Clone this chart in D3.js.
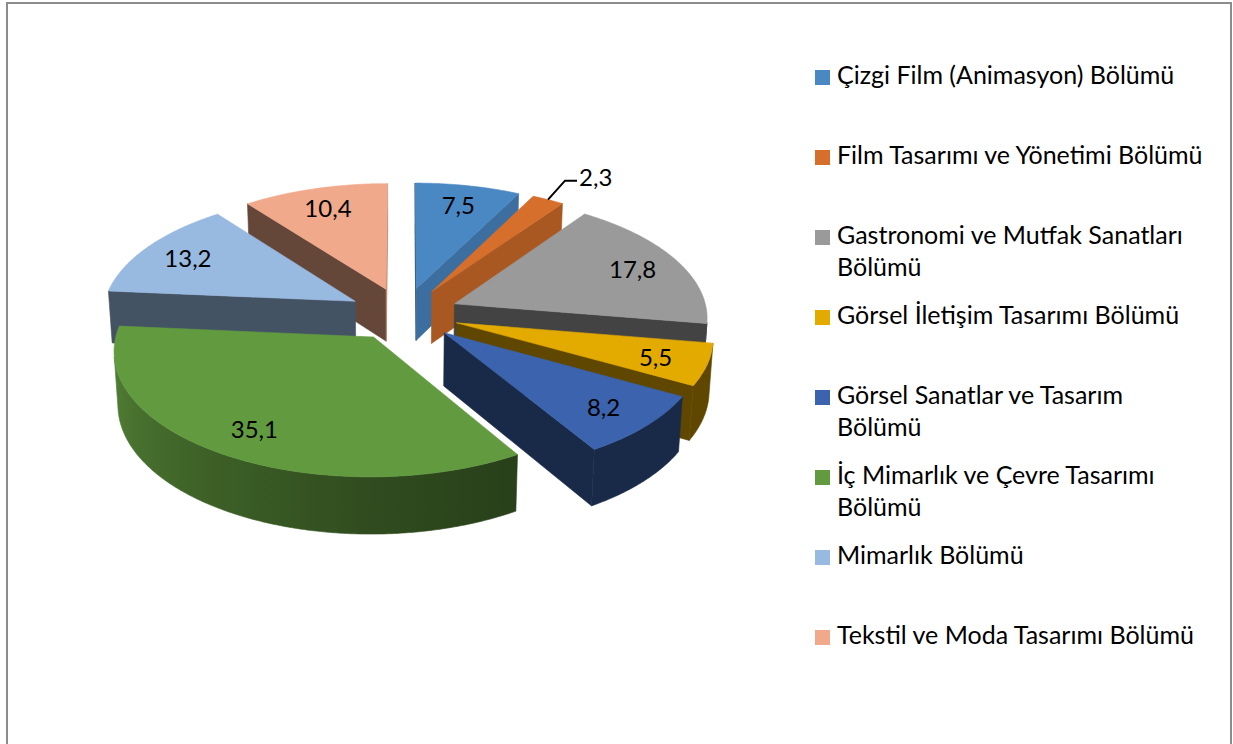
<!DOCTYPE html>
<html>
<head>
<meta charset="utf-8">
<script src="https://cdn.jsdelivr.net/npm/d3@7"></script>
<style>
  body { margin: 0; background: #ffffff; }
  svg { display: block; }
  text { font-family: Lato, "Open Sans", sans-serif; fill: #000; }
</style>
</head>
<body>
<svg id="chart" width="1233" height="744"></svg>
<script>
// ---- data ----
const categories = [
  "Çizgi Film (Animasyon) Bölümü",
  "Film Tasarımı ve Yönetimi Bölümü",
  "Gastronomi ve Mutfak Sanatları Bölümü",
  "Görsel İletişim Tasarımı Bölümü",
  "Görsel Sanatlar ve Tasarım Bölümü",
  "İç Mimarlık ve Çevre Tasarımı Bölümü",
  "Mimarlık Bölümü",
  "Tekstil ve Moda Tasarımı Bölümü"
];
const values = [7.5, 2.3, 17.8, 5.5, 8.2, 35.1, 13.2, 10.4];
const colors = ["#4a88c4", "#d56f2b", "#9a9a9a", "#e3aa00", "#3b63ae", "#629b3f", "#98b9e0", "#f0a98b"];

// ---- layout / projection settings ----
const cam = { cx: 403.5, cy: 314, s: 253, ca: 0.878, sa: 0.478, D: 8.78, thick: 0.24, explode: 0.22 };
const labelR = 0.8;
const labelFont = 24;
const legendFont = 25;

const svg = d3.select("#chart");
const defs = svg.append("defs");

// border
svg.append("rect")
  .attr("x", 7).attr("y", 3).attr("width", 1224).attr("height", 760)
  .attr("fill", "#fff").attr("stroke", "#8c8c8c").attr("stroke-width", 2);

function proj(X, Y, Z) {
  const dr = 1 + (Z * cam.ca - Y * cam.sa) / cam.D;
  return [cam.cx + cam.s * X / dr, cam.cy - cam.s * (Y * cam.ca + Z * cam.sa) / dr];
}
const camPos = [0, cam.D * cam.sa, -cam.D * cam.ca];
function facing(n, p) {
  return n[0] * (camPos[0] - p[0]) + n[1] * (camPos[1] - p[1]) + n[2] * (camPos[2] - p[2]) > 0;
}
function shade(hex, k) {
  const c = d3.rgb(hex);
  return d3.rgb(c.r * k, c.g * k, c.b * k).formatHex();
}
const line = d3.line();
const deg = Math.PI / 180;

const pie = d3.pie().sort(null).value(d => d).startAngle(0).endAngle(2 * Math.PI);
const arcs = pie(values).map((a, i) => {
  const mid = (a.startAngle + a.endAngle) / 2;
  return {
    i, value: values[i], a0: a.startAngle, a1: a.endAngle, mid,
    ox: cam.explode * Math.sin(mid), oz: cam.explode * Math.cos(mid)
  };
});
// painter's order: far first
arcs.forEach(s => { s.depth = s.oz + 0.5 * Math.cos(s.mid); });
const order = arcs.slice().sort((a, b) => b.depth - a.depth);

const gPie = svg.append("g");
const Y0 = 0, Y1 = -cam.thick;

function wallK(t) {
  const d = t / deg;
  const u = Math.max(0, Math.min(1, (d - 150) / 120));
  return 0.42 + 0.45 * Math.pow(u, 1.3);
}
function radialK(nAng) {
  const c = Math.max(0, Math.cos(nAng - 110 * deg));
  return 0.42 + 0.4 * c * c;
}

order.forEach(s => {
  const g = gPie.append("g");
  const col = colors[s.i];
  const rimPt = (t, Y) => proj(s.ox + Math.sin(t), Y, s.oz + Math.cos(t));
  const apex = Y => proj(s.ox, Y, s.oz);

  // radial faces
  [[s.a0, s.a0 - Math.PI / 2], [s.a1, s.a1 + Math.PI / 2]].forEach(([phi, nAng]) => {
    const n = [Math.sin(nAng), 0, Math.cos(nAng)];
    const p = [s.ox + 0.5 * Math.sin(phi), -cam.thick / 2, s.oz + 0.5 * Math.cos(phi)];
    if (facing(n, p)) {
      const c = shade(col, radialK(nAng));
      g.append("path")
        .attr("d", line([apex(Y0), rimPt(phi, Y0), rimPt(phi, Y1), apex(Y1)]) + "Z")
        .attr("fill", c).attr("stroke", c).attr("stroke-width", 0.6).attr("stroke-linejoin", "round");
    }
  });

  // outer wall: find the visible range, draw as one path with a gradient
  const steps = Math.max(4, Math.ceil((s.a1 - s.a0) / (0.5 * deg)));
  const vis = [];
  for (let k = 0; k <= steps; k++) {
    const t = s.a0 + (s.a1 - s.a0) * k / steps;
    const n = [Math.sin(t), 0, Math.cos(t)];
    const p = [s.ox + Math.sin(t), -cam.thick / 2, s.oz + Math.cos(t)];
    if (facing(n, p)) vis.push(t);
  }
  if (vis.length >= 2) {
    const top = vis.map(t => rimPt(t, Y0));
    const bot = vis.map(t => rimPt(t, Y1)).reverse();
    const xs = top.map(p => p[0]);
    const xMin = d3.min(xs), xMax = d3.max(xs);
    const gid = "wall" + s.i;
    const grad = defs.append("linearGradient").attr("id", gid)
      .attr("gradientUnits", "userSpaceOnUse")
      .attr("x1", xMin).attr("y1", 0).attr("x2", xMax).attr("y2", 0);
    const span = Math.max(1e-6, xMax - xMin);
    const stops = vis.filter((t, k) => k % 6 === 0 || k === vis.length - 1)
      .map(t => ({ off: (rimPt(t, Y0)[0] - xMin) / span, c: shade(col, wallK(t)) }))
      .sort((a, b) => a.off - b.off);
    stops.forEach(st => grad.append("stop").attr("offset", st.off).attr("stop-color", st.c));
    g.append("path")
      .attr("d", line(top.concat(bot)) + "Z")
      .attr("fill", `url(#${gid})`).attr("stroke", `url(#${gid})`).attr("stroke-width", 0.6);
  }

  // top face
  const pts = [apex(Y0)];
  const n2 = Math.max(4, Math.ceil((s.a1 - s.a0) / (0.5 * deg)));
  for (let k = 0; k <= n2; k++) pts.push(rimPt(s.a0 + (s.a1 - s.a0) * k / n2, Y0));
  g.append("path")
    .attr("d", line(pts) + "Z")
    .attr("fill", col).attr("stroke", col).attr("stroke-width", 0.6).attr("stroke-linejoin", "round");
});

// data labels
const fmt = v => d3.format(".1f")(v).replace(".", ",");
const gLab = svg.append("g");
arcs.forEach(s => {
  if (s.value < 3) {
    const p0 = proj(s.ox + Math.sin(s.mid), 0, s.oz + Math.cos(s.mid));
    const p1 = [p0[0] + 17, p0[1] - 19];
    const p2 = [p1[0] + 12, p1[1]];
    gLab.append("path").attr("d", line([p0, p1, p2]))
      .attr("fill", "none").attr("stroke", "#000").attr("stroke-width", 2);
    gLab.append("text").attr("x", p2[0] + 2).attr("y", p2[1] - 4)
      .attr("dominant-baseline", "central").attr("font-size", labelFont)
      .text(fmt(s.value));
  } else {
    const p = proj(s.ox + labelR * Math.sin(s.mid), 0, s.oz + labelR * Math.cos(s.mid));
    gLab.append("text").attr("x", p[0]).attr("y", p[1])
      .attr("text-anchor", "middle").attr("dominant-baseline", "central")
      .attr("font-size", labelFont).text(fmt(s.value));
  }
});

// legend
const legend = svg.append("g");
const legX = 815, legText = 837, legY0 = 84, legStep = 80, lineGap = 32, maxW = 366;
categories.forEach((name, i) => {
  const y = legY0 + legStep * i;
  legend.append("rect").attr("x", legX).attr("y", y - 14).attr("width", 15).attr("height", 15)
    .attr("fill", colors[i]);
  const t = legend.append("text").attr("x", legText).attr("y", y).attr("font-size", legendFont);
  const words = name.split(" ");
  let lineWords = [];
  let tspan = t.append("tspan").attr("x", legText).attr("y", y);
  let ln = 0;
  words.forEach(w => {
    lineWords.push(w);
    tspan.text(lineWords.join(" "));
    if (tspan.node().getComputedTextLength() > maxW && lineWords.length > 1) {
      lineWords.pop();
      tspan.text(lineWords.join(" "));
      lineWords = [w];
      ln++;
      tspan = t.append("tspan").attr("x", legText).attr("y", y + lineGap * ln).text(w);
    }
  });
});
</script>
</body>
</html>
